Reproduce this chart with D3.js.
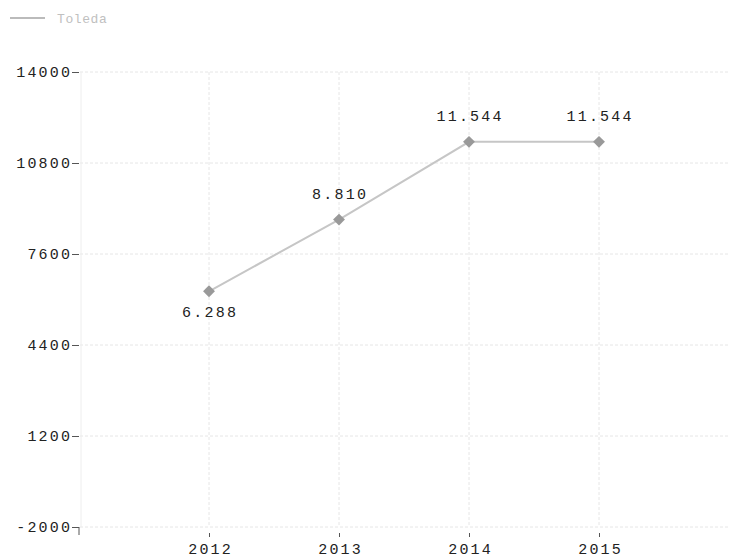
<!DOCTYPE html>
<html><head><meta charset="utf-8">
<script src="https://cdn.jsdelivr.net/npm/d3@7"></script>
<style>body{margin:0;background:#fff}svg{display:block}</style>
</head><body>
<script>
const years = [2012, 2013, 2014, 2015];
const values = [6288, 8810, 11544, 11544];
const labels = ["6.288", "8.810", "11.544", "11.544"];
const yTicks = [-2000, 1200, 4400, 7600, 10800, 14000];
const seriesName = "Toleda";

const W = 730, H = 559;
const svg = d3.select("body").append("svg").attr("width", W).attr("height", H);
const x = d3.scaleLinear().domain([2011, 2016]).range([79, 729]);
const y = d3.scaleLinear().domain([-2000, 14000]).range([527, 72]);
const font = "'Liberation Mono', 'DejaVu Sans Mono', monospace";
const LS = 2.2;

// grid
const g = svg.append("g");
g.selectAll(".hg").data(yTicks).join("line")
  .attr("x1", 80).attr("x2", 729).attr("y1", d => y(d)).attr("y2", d => y(d))
  .attr("stroke", "#e6e6e6").attr("stroke-dasharray", "3,2");
g.selectAll(".vg").data(years).join("line")
  .attr("x1", d => x(d)).attr("x2", d => x(d)).attr("y1", 72).attr("y2", 527)
  .attr("stroke", "#e6e6e6").attr("stroke-dasharray", "3,2");
g.append("line").attr("x1", 81).attr("x2", 81).attr("y1", 72).attr("y2", 527)
  .attr("stroke", "#eeeeee");

// y axis
const ya = svg.append("g").attr("transform", "translate(79,0)")
  .call(d3.axisLeft(y).tickValues(yTicks).tickSize(7).tickPadding(2).tickFormat(d3.format("d")));
ya.select(".domain").remove();
ya.selectAll("line").attr("stroke", "#555");
ya.selectAll("text").attr("font-family", font).attr("font-size", 15).attr("fill", "#222")
  .attr("letter-spacing", LS).attr("dx", LS);
ya.selectAll("text").filter(d => d < 0).text("-2000");
svg.append("line").attr("x1", 79).attr("x2", 79).attr("y1", 527).attr("y2", 535).attr("stroke", "#555");

// x axis
const xa = svg.append("g").attr("transform", "translate(0,533)")
  .call(d3.axisBottom(x).tickValues(years).tickSize(4).tickPadding(6).tickFormat(d3.format("d")));
xa.select(".domain").remove();
xa.selectAll("line").attr("stroke", "#555");
xa.selectAll("text").attr("font-family", font).attr("font-size", 15).attr("fill", "#222")
  .attr("letter-spacing", LS).attr("dx", LS / 2);

// line
const data = years.map((yr, i) => ({yr, v: values[i], l: labels[i]}));
svg.append("path").datum(data)
  .attr("d", d3.line().x(d => x(d.yr)).y(d => y(d.v)))
  .attr("fill", "none").attr("stroke", "#c6c6c6").attr("stroke-width", 2);
svg.selectAll(".pt").data(data).join("path")
  .attr("transform", d => `translate(${x(d.yr)},${y(d.v)})`)
  .attr("d", d3.symbol(d3.symbolDiamond2, 90))
  .attr("fill", "#999");
svg.selectAll(".lb").data(data).join("text")
  .attr("x", d => x(d.yr)).attr("y", (d, i) => i === 0 ? y(d.v) + 26 : y(d.v) - 21)
  .attr("dx", LS / 2)
  .attr("text-anchor", "middle").attr("font-family", font).attr("font-size", 15)
  .attr("letter-spacing", LS).attr("fill", "#222").text(d => d.l);

// legend
svg.append("line").attr("x1", 10).attr("x2", 45).attr("y1", 18).attr("y2", 18)
  .attr("stroke", "#bbb").attr("stroke-width", 2);
svg.append("text").attr("x", 57).attr("y", 23).attr("font-family", font)
  .attr("font-size", 13).attr("letter-spacing", 0.6).attr("fill", "#c0c0c0").text(seriesName);
</script>
</body></html>
